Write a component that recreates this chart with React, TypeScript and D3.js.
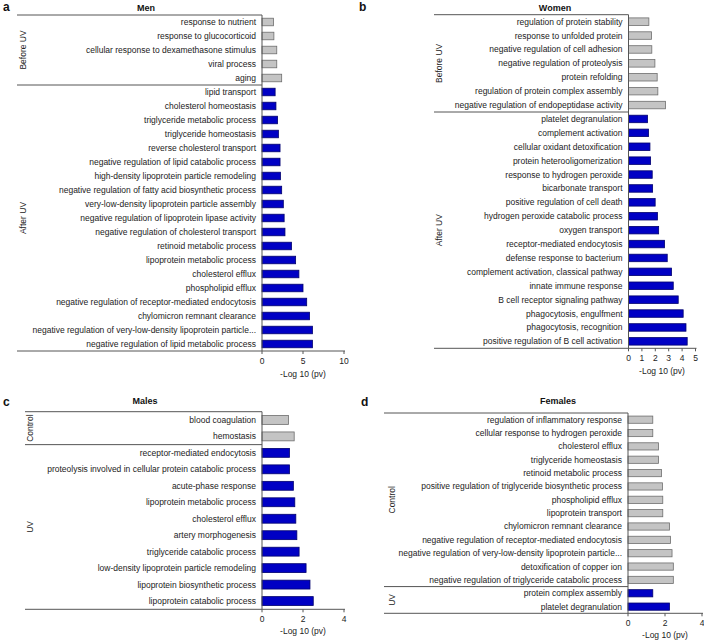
import { useEffect, useRef } from "react";
import * as d3 from "d3";

// Panel a - Men
const menBeforeLabels = [
  "response to nutrient",
  "response to glucocorticoid",
  "cellular response to dexamethasone stimulus",
  "viral process",
  "aging",
];
const menBeforeValues = [1.4, 1.45, 1.8, 1.8, 2.4];
const menAfterLabels = [
  "lipid transport",
  "cholesterol homeostasis",
  "triglyceride metabolic process",
  "triglyceride homeostasis",
  "reverse cholesterol transport",
  "negative regulation of lipid catabolic process",
  "high-density lipoprotein particle remodeling",
  "negative regulation of fatty acid biosynthetic process",
  "very-low-density lipoprotein particle assembly",
  "negative regulation of lipoprotein lipase activity",
  "negative regulation of cholesterol transport",
  "retinoid metabolic process",
  "lipoprotein metabolic process",
  "cholesterol efflux",
  "phospholipid efflux",
  "negative regulation of receptor-mediated endocytosis",
  "chylomicron remnant clearance",
  "negative regulation of very-low-density lipoprotein particle...",
  "negative regulation of lipid metabolic process",
];
const menAfterValues = [1.6, 1.7, 1.9, 2.0, 2.2, 2.2, 2.25, 2.4, 2.6, 2.7, 2.8, 3.6, 4.1, 4.5, 5.0, 5.45, 5.8, 6.15, 6.15];

// Panel b - Women
const womenBeforeLabels = [
  "regulation of protein stability",
  "response to unfolded protein",
  "negative regulation of cell adhesion",
  "negative regulation of proteolysis",
  "protein refolding",
  "regulation of protein complex assembly",
  "negative regulation of endopeptidase activity",
];
const womenBeforeValues = [1.52, 1.72, 1.74, 1.97, 2.14, 2.19, 2.76];
const womenAfterLabels = [
  "platelet degranulation",
  "complement activation",
  "cellular oxidant detoxification",
  "protein heterooligomerization",
  "response to hydrogen peroxide",
  "bicarbonate transport",
  "positive regulation of cell death",
  "hydrogen peroxide catabolic process",
  "oxygen transport",
  "receptor-mediated endocytosis",
  "defense response to bacterium",
  "complement activation, classical pathway",
  "innate immune response",
  "B cell receptor signaling pathway",
  "phagocytosis, engulfment",
  "phagocytosis, recognition",
  "positive regulation of B cell activation",
];
const womenAfterValues = [1.42, 1.5, 1.6, 1.65, 1.77, 1.8, 1.99, 2.16, 2.25, 2.69, 2.89, 3.21, 3.34, 3.71, 4.08, 4.29, 4.38];

// Panel c - Males
const malesControlLabels = ["blood coagulation", "hemostasis"];
const malesControlValues = [1.29, 1.57];
const malesUvLabels = [
  "receptor-mediated endocytosis",
  "proteolysis involved in cellular protein catabolic process",
  "acute-phase response",
  "lipoprotein metabolic process",
  "cholesterol efflux",
  "artery morphogenesis",
  "triglyceride catabolic process",
  "low-density lipoprotein particle remodeling",
  "lipoprotein biosynthetic process",
  "lipoprotein catabolic process",
];
const malesUvValues = [1.34, 1.34, 1.53, 1.6, 1.65, 1.7, 1.81, 2.15, 2.34, 2.5];

// Panel d - Females
const femalesControlLabels = [
  "regulation of inflammatory response",
  "cellular response to hydrogen peroxide",
  "cholesterol efflux",
  "triglyceride homeostasis",
  "retinoid metabolic process",
  "positive regulation of triglyceride biosynthetic process",
  "phospholipid efflux",
  "lipoprotein transport",
  "chylomicron remnant clearance",
  "negative regulation of receptor-mediated endocytosis",
  "negative regulation of very-low-density lipoprotein particle...",
  "detoxification of copper ion",
  "negative regulation of triglyceride catabolic process",
];
const femalesControlValues = [1.34, 1.34, 1.65, 1.65, 1.81, 1.86, 1.88, 1.88, 2.24, 2.3, 2.38, 2.45, 2.45];
const femalesUvLabels = ["protein complex assembly", "platelet degranulation"];
const femalesUvValues = [1.34, 2.24];

const xTicksA = [0, 5, 10];
const xTicksB = [0, 1, 2, 3, 4, 5];
const xTicksCD = [0, 2, 4];

interface Group {
  name: string;
  labels: string[];
  values: number[];
  fill: string;
  stroke: string;
}

interface PanelSpec {
  letter: string;
  title: string;
  groups: Group[];
  left: number;
  x0: number;
  x1: number;
  xMax: number;
  top: number;
  bottom: number;
  ticks: number[];
  groupX: number;
  letterX: number;
  letterY: number;
  titleX: number;
  titleY: number;
  axisTitleDy: number;
}

const GRAY = { fill: "#c4c4c4", stroke: "#6e6e6e" };
const BLUE = { fill: "#0000c4", stroke: "#00006e" };

const panels: PanelSpec[] = [
  {
    letter: "a", title: "Men",
    groups: [
      { name: "Before UV", labels: menBeforeLabels, values: menBeforeValues, ...GRAY },
      { name: "After UV", labels: menAfterLabels, values: menAfterValues, ...BLUE },
    ],
    left: 17, x0: 262, x1: 344, xMax: 10, top: 15, bottom: 351, ticks: xTicksA,
    groupX: 23, letterX: 3, letterY: 11, titleX: 146, titleY: 8, axisTitleDy: 23,
  },
  {
    letter: "b", title: "Women",
    groups: [
      { name: "Before UV", labels: womenBeforeLabels, values: womenBeforeValues, ...GRAY },
      { name: "After UV", labels: womenAfterLabels, values: womenAfterValues, ...BLUE },
    ],
    left: 434, x0: 628.5, x1: 695.5, xMax: 5, top: 14.7, bottom: 348.3, ticks: xTicksB,
    groupX: 439, letterX: 359, letterY: 11, titleX: 555, titleY: 8, axisTitleDy: 23,
  },
  {
    letter: "c", title: "Males",
    groups: [
      { name: "Control", labels: malesControlLabels, values: malesControlValues, ...GRAY },
      { name: "UV", labels: malesUvLabels, values: malesUvValues, ...BLUE },
    ],
    left: 25, x0: 262, x1: 344, xMax: 4, top: 411.7, bottom: 609.3, ticks: xTicksCD,
    groupX: 30, letterX: 3, letterY: 406, titleX: 145, titleY: 401, axisTitleDy: 22,
  },
  {
    letter: "d", title: "Females",
    groups: [
      { name: "Control", labels: femalesControlLabels, values: femalesControlValues, ...GRAY },
      { name: "UV", labels: femalesUvLabels, values: femalesUvValues, ...BLUE },
    ],
    left: 384, x0: 628, x1: 702, xMax: 4, top: 413, bottom: 613.3, ticks: xTicksCD,
    groupX: 392, letterX: 361, letterY: 406, titleX: 558, titleY: 401, axisTitleDy: 22,
  },
];

const FONT = "'Liberation Sans', Arial, sans-serif";

const App = () => {
  const ref = useRef<SVGSVGElement>(null);

  useEffect(() => {
    if (!ref.current) return;
    const svg = d3.select(ref.current);
    svg.selectAll("*").remove();

    panels.forEach((p) => {
      const g = svg.append("g").attr("font-family", FONT);
      const rows = p.groups.flatMap((gr) =>
        gr.labels.map((label, i) => ({ label, value: gr.values[i], fill: gr.fill, stroke: gr.stroke, key: gr.name + "|" + label }))
      );

      const y = d3
        .scaleBand()
        .domain(rows.map((r) => r.key))
        .range([p.top, p.bottom])
        .paddingInner(0.46)
        .paddingOuter(0.23);
      const x = d3.scaleLinear().domain([0, p.xMax]).range([p.x0, p.x1]);
      const step = y.step();

      // bars
      g.selectAll(".bar")
        .data(rows)
        .enter()
        .append("rect")
        .attr("x", x(0))
        .attr("y", (d) => y(d.key)!)
        .attr("width", (d) => x(d.value) - x(0))
        .attr("height", y.bandwidth())
        .attr("fill", (d) => d.fill)
        .attr("stroke", (d) => d.stroke)
        .attr("stroke-width", 0.8);

      // category labels
      g.selectAll(".lbl")
        .data(rows)
        .enter()
        .append("text")
        .attr("x", p.x0 - 6)
        .attr("y", (d) => y(d.key)! + y.bandwidth() / 2)
        .attr("dy", "0.35em")
        .attr("text-anchor", "end")
        .attr("font-size", 8.5)
        .attr("fill", "#222")
        .text((d) => d.label);

      // group separator lines and labels
      let start = 0;
      p.groups.forEach((gr, gi) => {
        const yTop = p.top + start * step;
        const yBot = p.top + (start + gr.labels.length) * step;
        if (gi === 0) {
          g.append("line")
            .attr("x1", p.left).attr("x2", p.x0)
            .attr("y1", yTop).attr("y2", yTop)
            .attr("stroke", "#555").attr("stroke-width", 1);
        }
        if (gi < p.groups.length - 1) {
          g.append("line")
            .attr("x1", p.left).attr("x2", p.x0)
            .attr("y1", yBot).attr("y2", yBot)
            .attr("stroke", "#555").attr("stroke-width", 1);
        }
        const cy = (yTop + yBot) / 2;
        g.append("text")
          .attr("transform", `translate(${p.groupX},${cy}) rotate(-90)`)
          .attr("text-anchor", "middle")
          .attr("dy", "0.35em")
          .attr("font-size", 8.5)
          .attr("fill", "#222")
          .text(gr.name);
        start += gr.labels.length;
      });

      // y axis line
      g.append("line")
        .attr("x1", p.x0).attr("x2", p.x0)
        .attr("y1", p.top).attr("y2", p.bottom)
        .attr("stroke", "#555").attr("stroke-width", 1);

      // x axis line and ticks
      g.append("line")
        .attr("x1", p.left).attr("x2", p.x1 + 1)
        .attr("y1", p.bottom).attr("y2", p.bottom)
        .attr("stroke", "#555").attr("stroke-width", 1);
      g.selectAll(".tick")
        .data(p.ticks)
        .enter()
        .append("line")
        .attr("x1", (d) => x(d)).attr("x2", (d) => x(d))
        .attr("y1", p.bottom).attr("y2", p.bottom + 3)
        .attr("stroke", "#555");
      g.selectAll(".tickLbl")
        .data(p.ticks)
        .enter()
        .append("text")
        .attr("x", (d) => x(d))
        .attr("y", p.bottom + 10)
        .attr("dy", "0.35em")
        .attr("text-anchor", "middle")
        .attr("font-size", 8.5)
        .attr("fill", "#222")
        .text((d) => d);
      g.append("text")
        .attr("x", (p.x0 + p.x1) / 2)
        .attr("y", p.bottom + p.axisTitleDy)
        .attr("dy", "0.35em")
        .attr("text-anchor", "middle")
        .attr("font-size", 8.5)
        .attr("fill", "#222")
        .text("-Log 10 (pv)");

      // title and panel letter
      g.append("text")
        .attr("x", p.titleX).attr("y", p.titleY)
        .attr("dy", "0.35em")
        .attr("text-anchor", "middle")
        .attr("font-size", 9)
        .attr("font-weight", "bold")
        .attr("fill", "#111")
        .text(p.title);
      g.append("text")
        .attr("x", p.letterX).attr("y", p.letterY)
        .attr("font-size", 12)
        .attr("font-weight", "bold")
        .attr("fill", "#111")
        .text(p.letter);
    });
  }, []);

  return (
    <svg
      ref={ref}
      width={704}
      height={640}
      style={{ position: "absolute", left: 0, top: 0, background: "#fff" }}
    />
  );
};

export default App;
